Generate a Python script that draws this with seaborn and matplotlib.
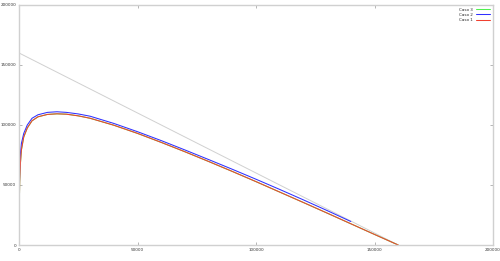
import matplotlib
matplotlib.use("Agg")
import matplotlib.pyplot as plt
import seaborn as sns
import pandas as pd

# Reference line (gray)
ref_x = [0, 160000]
ref_y = [160000, 0]

# Caso 2 (blue)
caso2_x = [0, 100, 300, 600, 1000, 2000, 3500, 5500, 8000, 12000, 16000, 20000,
           25000, 30000, 40000, 50000, 60000, 70000, 80000, 90000, 100000,
           110000, 120000, 130000, 140000]
caso2_y = [0, 42000, 62000, 76000, 84500, 93000, 100000, 105600, 108500, 110500,
           111000, 110500, 109200, 107300, 101300, 94400, 87000, 79200, 71200,
           63100, 54800, 46300, 37600, 28700, 19600]

# Caso 1 (red)
caso1_x = [0, 100, 300, 600, 1000, 2000, 3500, 5500, 8000, 12000, 16000, 20000,
           25000, 30000, 40000, 50000, 60000, 70000, 80000, 90000, 100000,
           110000, 120000, 130000, 140000, 150000, 160000]
caso1_y = [0, 32000, 53000, 68000, 79000, 90000, 97500, 103500, 106800, 108800,
           109300, 109000, 107600, 105600, 99800, 93000, 85500, 77700, 69600,
           61300, 52800, 44100, 35400, 26600, 17700, 8800, 0]

# Caso 3 (green) - hidden under Caso 1
caso3_x = caso1_x
caso3_y = caso1_y

xticks = [0, 50000, 100000, 150000, 200000]
yticks = [0, 50000, 100000, 150000, 200000]

sns.set_style("white")
plt.rcParams['font.family'] = ['DejaVu Sans']

fig = plt.figure(figsize=(5.0, 2.61), dpi=100)
ax = fig.add_axes([0.038, 0.0613, 0.948, 0.9197])

df_ref = pd.DataFrame({"x": ref_x, "y": ref_y})
sns.lineplot(data=df_ref, x="x", y="y", ax=ax, color="#d0d0d0", linewidth=0.7,
             sort=False, legend=False)

series = [("Caso 3", caso3_x, caso3_y, "#50f050"),
          ("Caso 2", caso2_x, caso2_y, "#3030ff"),
          ("Caso 1", caso1_x, caso1_y, "#f04030")]
for name, xs, ys, col in series:
    d = pd.DataFrame({"x": xs, "y": ys})
    sns.lineplot(data=d, x="x", y="y", ax=ax, color=col, linewidth=0.75,
                 sort=False, label=name)

ax.set_xlim(0, 200000)
ax.set_ylim(0, 200000)
ax.set_xticks(xticks)
ax.set_yticks(yticks)
ax.set_xticklabels([str(v) for v in xticks])
ax.set_yticklabels([str(v) for v in yticks])
ax.set_xlabel("")
ax.set_ylabel("")
ax.tick_params(axis="both", labelsize=3, colors="#999999", labelcolor="#333333",
               direction="in", length=2, width=0.5, pad=2,
               top=True, right=True, bottom=True, left=True)
for s in ax.spines.values():
    s.set_color("#d0d0d0")
    s.set_linewidth(1.0)

leg = ax.legend(loc="upper right", fontsize=3, frameon=False, markerfirst=False,
                handlelength=3.5, handletextpad=0.6, labelspacing=0.25,
                borderaxespad=0.3)

fig.savefig("out.png", dpi=100)
